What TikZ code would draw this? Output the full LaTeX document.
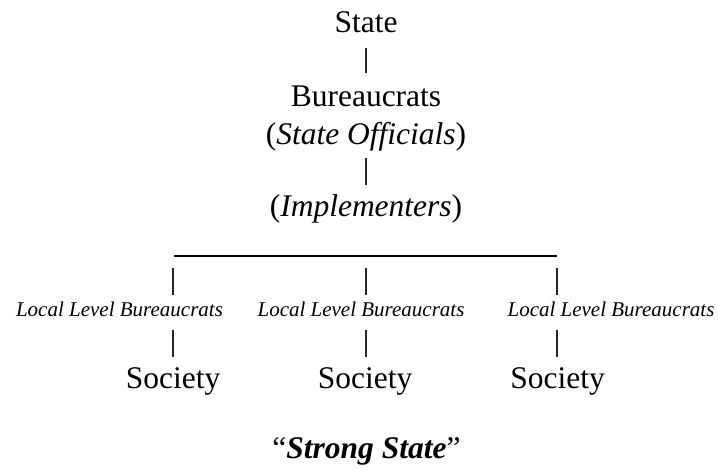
\documentclass[tikz,border=0pt]{standalone}
\usepackage{fontspec}
\setmainfont{Liberation Serif}
\usetikzlibrary{calc}
\tikzset{
  big/.style={inner sep=0pt, anchor=base, font=\fontsize{31.5}{36}\selectfont},
  small/.style={inner sep=0pt, anchor=base, font=\fontsize{21}{25}\selectfont\itshape},
  bar/.style={line width=1.2pt, black!85},
  rule/.style={line width=1.5pt, black}
}
\begin{document}
\begin{tikzpicture}[x=1pt,y=1pt]
\useasboundingbox (0,0) rectangle (718,469);
% top chain
\node[big] (state) at (366,436) {State};
\node[big] (bur) at (366,362) {Bureaucrats};
\node[big] (off) at (366,324) {(\textit{State Officials})};
\node[big] (imp) at (366,252) {(\textit{Implementers})};
\draw[bar] ([yshift=-15]state.base) -- ([yshift=34]bur.base);
\draw[bar] ([yshift=-13]off.base) -- ([yshift=32]imp.base);
% horizontal rule
\coordinate (hl) at (174,213);
\coordinate (hr) at (557,213);
\draw[rule] (hl) -- (hr);
% local level
\node[small] (l1) at (119.5,152) {Local Level Bureaucrats};
\node[small] (l2) at (361,152) {Local Level Bureaucrats};
\node[small] (l3) at (611,152) {Local Level Bureaucrats};
% society
\node[big] (s1) at (173,81) {Society};
\node[big] (s2) at (365,81) {Society};
\node[big] (s3) at (557.5,81) {Society};
\foreach \s/\x in {s1/173,s2/366,s3/557}{
  \draw[bar] (\x,201) -- (\x,174);
  \draw[bar] ([yshift=58]\s.base -| \x,0) -- ([yshift=31]\s.base -| \x,0);
}
% caption
\node[big] (cap) at (366.5,11) {“\textbf{\textit{Strong State}}”};
\end{tikzpicture}
\end{document}
